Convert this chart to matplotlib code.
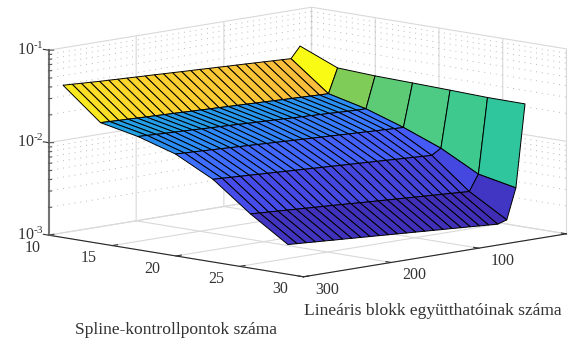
import numpy as np
import matplotlib
matplotlib.use("Agg")
import matplotlib.pyplot as plt
from matplotlib.colors import LinearSegmentedColormap

plt.rcParams['font.family'] = ['Liberation Serif', 'DejaVu Serif']
plt.rcParams['mathtext.fontset'] = 'custom'
plt.rcParams['mathtext.rm'] = 'Liberation Serif'
plt.rcParams['mathtext.default'] = 'regular'

spline_points = [10, 12.94, 15.88, 18.82, 21.76, 24.7, 27.64]
linear_coeffs = [13, 23.4, 33.8, 44.2, 54.6, 65, 75.4, 85.8, 96.2, 106.6, 117, 127.4, 137.8, 148.2, 158.6,
                 169, 179.4, 189.8, 200.2, 210.6, 221, 231.4, 241.8, 252.2, 262.6, 273, 283.4]
log_err_10 = [-1.400, -1.520, -1.515, -1.511, -1.506, -1.502, -1.497, -1.493, -1.489, -1.484, -1.480, -1.475, -1.471, -1.467,
              -1.462, -1.458, -1.453, -1.449, -1.445, -1.440, -1.436, -1.431, -1.427, -1.421, -1.416, -1.410, -1.405]
log_err_13 = [-1.570, -1.833, -1.830, -1.826, -1.823, -1.819, -1.816, -1.812, -1.808, -1.805, -1.801, -1.798, -1.794, -1.790,
              -1.787, -1.783, -1.780, -1.776, -1.772, -1.769, -1.765, -1.762, -1.758, -1.754, -1.751, -1.747, -1.743]
log_err_16 = [-1.590, -1.930, -1.928, -1.924, -1.920, -1.915, -1.911, -1.907, -1.903, -1.899, -1.894, -1.890, -1.886, -1.882,
              -1.878, -1.873, -1.869, -1.865, -1.861, -1.857, -1.852, -1.848, -1.844, -1.840, -1.836, -1.831, -1.827]
log_err_19 = [-1.600, -2.065, -2.062, -2.057, -2.053, -2.048, -2.043, -2.039, -2.034, -2.029, -2.025, -2.020, -2.015, -2.011,
              -2.006, -2.001, -1.997, -1.992, -1.987, -1.983, -1.978, -1.973, -1.969, -1.964, -1.959, -1.955, -1.950]
log_err_22 = [-1.612, -2.224, -2.285, -2.280, -2.274, -2.269, -2.264, -2.258, -2.253, -2.248, -2.242, -2.237, -2.232, -2.226,
              -2.221, -2.216, -2.210, -2.205, -2.200, -2.194, -2.189, -2.184, -2.178, -2.173, -2.168, -2.162, -2.157]
log_err_25 = [-1.625, -2.438, -2.610, -2.604, -2.598, -2.592, -2.586, -2.580, -2.574, -2.568, -2.562, -2.556, -2.550, -2.544,
              -2.538, -2.531, -2.525, -2.519, -2.513, -2.507, -2.501, -2.495, -2.489, -2.483, -2.477, -2.471, -2.465]
log_err_28 = [-1.628, -2.520, -2.850, -2.880, -2.873, -2.867, -2.860, -2.854, -2.847, -2.841, -2.834, -2.828, -2.821, -2.815,
              -2.808, -2.802, -2.795, -2.789, -2.782, -2.776, -2.769, -2.763, -2.756, -2.750, -2.743, -2.737, -2.730]
x_ticks = [10, 15, 20, 25, 30]
y_ticks = [0, 100, 200, 300]
z_ticks = [-3, -2, -1]
z_labels = [r'$10^{\text{-}3}$', r'$10^{\text{-}2}$', r'$10^{\text{-}1}$']
x_label = 'Spline-kontrollpontok száma'
y_label = 'Lineáris blokk együtthatóinak száma'

parula = LinearSegmentedColormap.from_list('parula', [
    (0.000, (0.2422, 0.1504, 0.6603)), (0.143, (0.2810, 0.3228, 0.9579)), (0.222, (0.2440, 0.4358, 0.9988)),
    (0.286, (0.1786, 0.5289, 0.9682)), (0.365, (0.1380, 0.6276, 0.8973)), (0.460, (0.0036, 0.7203, 0.7917)),
    (0.508, (0.0964, 0.7500, 0.7120)), (0.587, (0.2470, 0.7918, 0.5567)), (0.667, (0.5044, 0.7993, 0.3480)),
    (0.746, (0.7738, 0.7598, 0.1646)), (0.825, (0.9728, 0.7298, 0.2394)), (0.889, (0.9892, 0.8136, 0.1885)),
    (1.000, (0.9769, 0.9839, 0.0805))])
color_error = [0.0013, 0.0148, 0.0180, 0.0270, 0.0300, 0.0385, 0.0398]
color_level = [0.0, 0.31, 0.37, 0.667, 0.83, 0.93, 1.0]

Z = np.array([log_err_10, log_err_13, log_err_16, log_err_19, log_err_22, log_err_25, log_err_28])
X, Y = np.meshgrid(spline_points, linear_coeffs, indexing='ij')
E = 10.0 ** Z
colors = parula(np.interp(E, color_error, color_level))

W, H = 579, 340
fig = plt.figure(figsize=(W / 100, H / 100), dpi=100, facecolor='white')
ax = fig.add_axes([132.9 / W, 23.4 / H, 340 / W, 340 / H], projection='3d', proj_type='ortho')
ax.patch.set_alpha(0)
ax.set_xlim(10, 30, view_margin=0)
ax.set_ylim(300, 0, view_margin=0)
ax.set_zlim(-3, -1, view_margin=0)
ax.view_init(elev=9.4, azim=-45)
ax.set_box_aspect((360.6, 372, 187.5), zoom=1.573)

surf = ax.plot_surface(X, Y, Z, facecolors=colors, rstride=1, cstride=1, shade=False,
                       edgecolor='black', linewidth=0.7, antialiased=True)
surf.set_clip_on(False)

for axis in (ax.xaxis, ax.yaxis, ax.zaxis):
    axis.set_pane_color((1, 1, 1, 0))
    axis.pane.set_edgecolor((0.85, 0.85, 0.85, 1))
    axis._axinfo['grid'].update(color=(0.85, 0.85, 0.85, 1), linewidth=0.8)
    axis._axinfo['tick'].update(inward_factor=0.0, outward_factor=0.25)
ax.xaxis.line.set_color('0.15')
ax.yaxis.line.set_color('0.15')
ax.zaxis.line.set_color('0.45')
ax.zaxis.line.set_linewidth(1.5)

ax.set_xticks(x_ticks)
ax.set_yticks(y_ticks)
ax.set_zticks(z_ticks)
ax.set_zticklabels(z_labels)
ax.zaxis.set_ticks_position('upper')
ax.tick_params(labelsize=11.5, labelcolor='0.2', color='0.2')
ax.tick_params(axis='x', pad=3.5)
ax.tick_params(axis='y', pad=3.7)
ax.tick_params(axis='z', pad=-3.6)
for axis in (ax.xaxis, ax.yaxis):
    for t in axis.get_major_ticks():
        t.label1.set_verticalalignment('bottom')
for t in ax.zaxis.get_major_ticks():
    t.label1.set_verticalalignment('center')
ax.xaxis.get_major_ticks()[0].label1.set_horizontalalignment('left')

for dec in z_ticks[:-1]:
    for m in range(2, 10):
        z = dec + np.log10(m)
        ax.plot([10, 10], [0, 300], [z, z], color='0.72', lw=0.7, ls=(0, (1, 5)), clip_on=False)
        ax.plot([10, 30], [0, 0], [z, z], color='0.72', lw=0.7, ls=(0, (1, 5)), clip_on=False)
        ax.plot([10, 10.12], [300, 298.3], [z, z], color='0.35', lw=0.8, clip_on=False)
for z in z_ticks:
    ax.plot([10, 10.2], [300, 297.1], [z, z], color='0.35', lw=0.8, clip_on=False)

fig.text(176 / W, 1 - 330 / H, x_label, ha='center', va='center', fontsize=12.6, color='0.2')
fig.text(433 / W, 1 - 311 / H, y_label, ha='center', va='center', fontsize=12.6, color='0.2')

fig.savefig('out.png', dpi=100)
